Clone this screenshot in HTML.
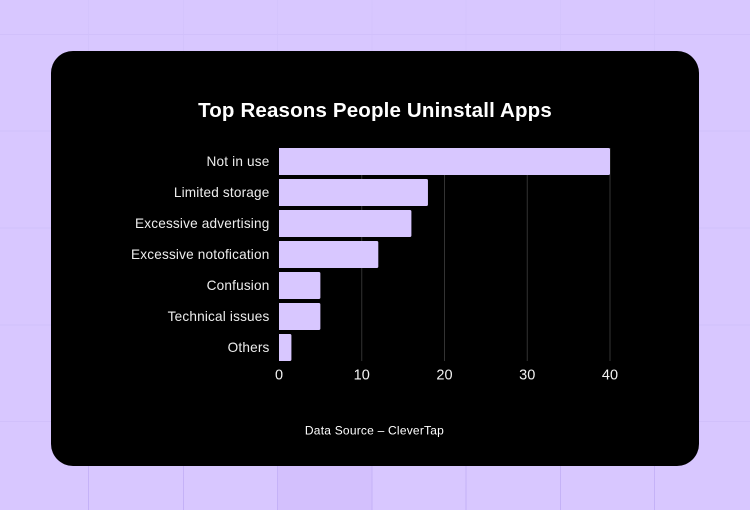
<!DOCTYPE html>
<html>
<head>
<meta charset="utf-8">
<style>
html,body{margin:0;padding:0;width:750px;height:510px;overflow:hidden;background:#d8c7ff}
svg{display:block}
text{font-family:"Liberation Sans",sans-serif}
</style>
</head>
<body>
<svg id="chart" width="750" height="510" viewBox="0 0 750 510" xmlns="http://www.w3.org/2000/svg">
  <defs>
    <linearGradient id="vline" gradientUnits="userSpaceOnUse" x1="0" y1="0" x2="0" y2="510">
      <stop offset="0" stop-color="#d4c4fd"/>
      <stop offset="0.5" stop-color="#cfbdfa"/>
      <stop offset="1" stop-color="#c4b1f7"/>
    </linearGradient>
  </defs>
  <rect x="0" y="0" width="750" height="510" fill="#d8c7ff"/>
  <rect x="278" y="466" width="94" height="44" fill="#d3c0fd"/>
  <g id="bg-grid"></g>
  <rect x="51" y="51" width="648" height="415" rx="22" ry="22" fill="#000"/>
  <text x="375" y="117" text-anchor="middle" font-size="20.5" font-weight="700" letter-spacing="0.16" fill="#fff">Top Reasons People Uninstall Apps</text>
  <g id="gridlines"></g>
  <g id="bars"></g>
  <g id="y-labels"></g>
  <g id="x-labels"></g>
  <text x="374.5" y="434.5" text-anchor="middle" font-size="12" letter-spacing="0.22" fill="#fff">Data Source – CleverTap</text>
</svg>
<script>
const categories = ["Not in use", "Limited storage", "Excessive advertising", "Excessive notofication", "Confusion", "Technical issues", "Others"];
const seriesValues = [40, 18, 16, 12, 5, 5, 1.5];
const tickValues = [0, 10, 20, 30, 40];

const NS = "http://www.w3.org/2000/svg";
const plotLeft = 279, plotRight = 610, plotTop = 146, bandHeight = 31, barHeight = 27, plotBottom = plotTop + bandHeight * 7;
const xScale = v => plotLeft + (v / 40) * (plotRight - plotLeft);
const bandY = i => plotTop + bandHeight * i;

function make(tag, attrs, parent, text) {
  const el = document.createElementNS(NS, tag);
  for (const k in attrs) el.setAttribute(k, attrs[k]);
  if (text !== undefined) el.textContent = text;
  parent.appendChild(el);
  return el;
}

const bgGrid = document.getElementById("bg-grid");
[88.5, 183.5, 277.5, 372, 466, 560.5, 654.5].forEach(x => {
  const l = make("rect", {x: x - 0.5, y: 0, width: 1, height: 510, fill: "url(#vline)"}, bgGrid);
  
  
});
[34.5, 131, 228, 325, 421.5].forEach(y => {
  const l = make("line", {x1: 0, x2: 750, y1: y, y2: y, stroke: "#d1c0fb", "stroke-width": 1}, bgGrid);
  
  
});

const gridG = document.getElementById("gridlines");
const xG = document.getElementById("x-labels");
tickValues.forEach(t => {
  const x = xScale(t);
  if (t > 0) {
    const g = make("line", {x1: x, x2: x, y1: plotTop + 2, y2: plotBottom - 2, stroke: "#333", "stroke-width": 1}, gridG);
    
    
  }
  const lbl = make("text", {x: x, y: 379.3, "text-anchor": "middle", "font-size": 14.5, fill: "#f2f2f2"}, xG, String(t));
  
  
});

const barG = document.getElementById("bars");
const yG = document.getElementById("y-labels");
categories.forEach((c, i) => {
  const y = bandY(i) + (bandHeight - barHeight) / 2;
  const w = xScale(seriesValues[i]) - plotLeft;
  const b = make("path", {
    d: "M" + plotLeft + " " + y + "H" + (plotLeft + w - 1.5) + "Q" + (plotLeft + w) + " " + y + " " + (plotLeft + w) + " " + (y + 1.5) +
       "V" + (y + barHeight - 1.5) + "Q" + (plotLeft + w) + " " + (y + barHeight) + " " + (plotLeft + w - 1.5) + " " + (y + barHeight) + "H" + plotLeft + "Z",
    fill: "#d8c7ff"
  }, barG);
  
  
  const lbl = make("text", {x: 269.5, y: y + barHeight / 2 + 4.4, "text-anchor": "end", "font-size": 13.6, "letter-spacing": 0.18, fill: "#ededed"}, yG, c);
  
  
});
</script>
</body>
</html>
